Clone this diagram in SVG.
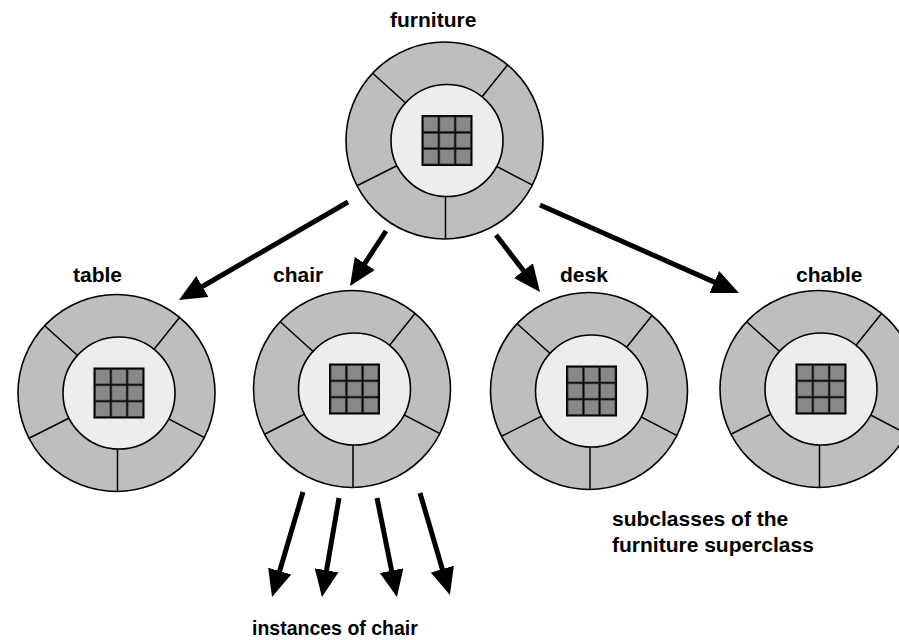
<svg xmlns="http://www.w3.org/2000/svg" xmlns:xlink="http://www.w3.org/1999/xlink" width="899" height="640" viewBox="0 0 899 640">
  <style>
    .ring { fill: #bebebe; stroke: #000; stroke-width: 1.6; }
    .spoke { stroke: #000; stroke-width: 1.5; fill: none; }
    .core { fill: #ededed; stroke: #000; stroke-width: 1.6; }
    .grid-bg { fill: #000; }
    .cell { fill: #888; stroke: #333; stroke-width: 0.8; }
    .label { font-family: "Liberation Sans", Arial, Helvetica, sans-serif; font-weight: bold; font-size: 21px; fill: #000; }
    .small { font-size: 19.5px; }
    .edge { stroke: #000; stroke-width: 5; fill: none; marker-end: url(#head); }
  </style>
  <defs>
    <marker id="head" markerUnits="userSpaceOnUse" markerWidth="27" markerHeight="24" viewBox="0 0 27 24" refX="2" refY="12" orient="auto">
      <path d="M0,0 L27,12 L0,24 Z" fill="#000"/>
    </marker>
    <!-- class wheel: outer ring split into five slots, inner core, 3x3 data grid -->
    <g id="wheel">
      <circle class="ring" cx="-2.5" cy="0" r="98.5"/>
      <path class="spoke" d="M0,0 L-74,-67 M0,0 L60.5,-75.5 M0,0 L85.5,44.7 M-1.5,0 L-1.5,98.5 M0,0 L-89.5,45"/>
      <circle class="core" cx="0" cy="0" r="56"/>
      <rect class="grid-bg" x="-25.5" y="-25.5" width="51" height="51"/>
      <rect class="cell" x="-23.5" y="-23.5" width="14.5" height="14.5"/>
      <rect class="cell" x="-7.25" y="-23.5" width="14.5" height="14.5"/>
      <rect class="cell" x="9" y="-23.5" width="14.5" height="14.5"/>
      <rect class="cell" x="-23.5" y="-7.25" width="14.5" height="14.5"/>
      <rect class="cell" x="-7.25" y="-7.25" width="14.5" height="14.5"/>
      <rect class="cell" x="9" y="-7.25" width="14.5" height="14.5"/>
      <rect class="cell" x="-23.5" y="9" width="14.5" height="14.5"/>
      <rect class="cell" x="-7.25" y="9" width="14.5" height="14.5"/>
      <rect class="cell" x="9" y="9" width="14.5" height="14.5"/>
    </g>
  </defs>

  <rect width="899" height="640" fill="#fff"/>

  <g id="connectors">
    <path class="edge" d="M348,202 L200.6,287.5"/>
    <path class="edge" d="M386,231 L363.7,265.1"/>
    <path class="edge" d="M496,235 L524.7,272.2"/>
    <path class="edge" d="M540,205 L716.1,282.9"/>
    <path class="edge" d="M303,492 L279.1,573"/>
    <path class="edge" d="M339,498 L326.2,572.3"/>
    <path class="edge" d="M377,498 L392,572.5"/>
    <path class="edge" d="M420,493 L442.9,571"/>
  </g>

  <g id="node-furniture">
    <use xlink:href="#wheel" transform="translate(447,140.5)"/>
    <text class="label" x="390" y="26.7">furniture</text>
  </g>
  <g id="node-table">
    <use xlink:href="#wheel" transform="translate(119,393)"/>
    <text class="label" x="73" y="281.5">table</text>
  </g>
  <g id="node-chair">
    <use xlink:href="#wheel" transform="translate(354.5,389)"/>
    <text class="label" x="273" y="281.5">chair</text>
  </g>
  <g id="node-desk">
    <use xlink:href="#wheel" transform="translate(591.5,391)"/>
    <text class="label" x="560" y="281.5">desk</text>
  </g>
  <g id="node-chable">
    <use xlink:href="#wheel" transform="translate(821,389)"/>
    <text class="label" x="796" y="281.5">chable</text>
  </g>

  <g id="note-subclasses">
    <text class="label" x="612" y="526">subclasses of the</text>
    <text class="label" x="612" y="551.5">furniture superclass</text>
  </g>
  <g id="note-instances">
    <text class="label small" x="252" y="634.5">instances of chair</text>
  </g>
</svg>
